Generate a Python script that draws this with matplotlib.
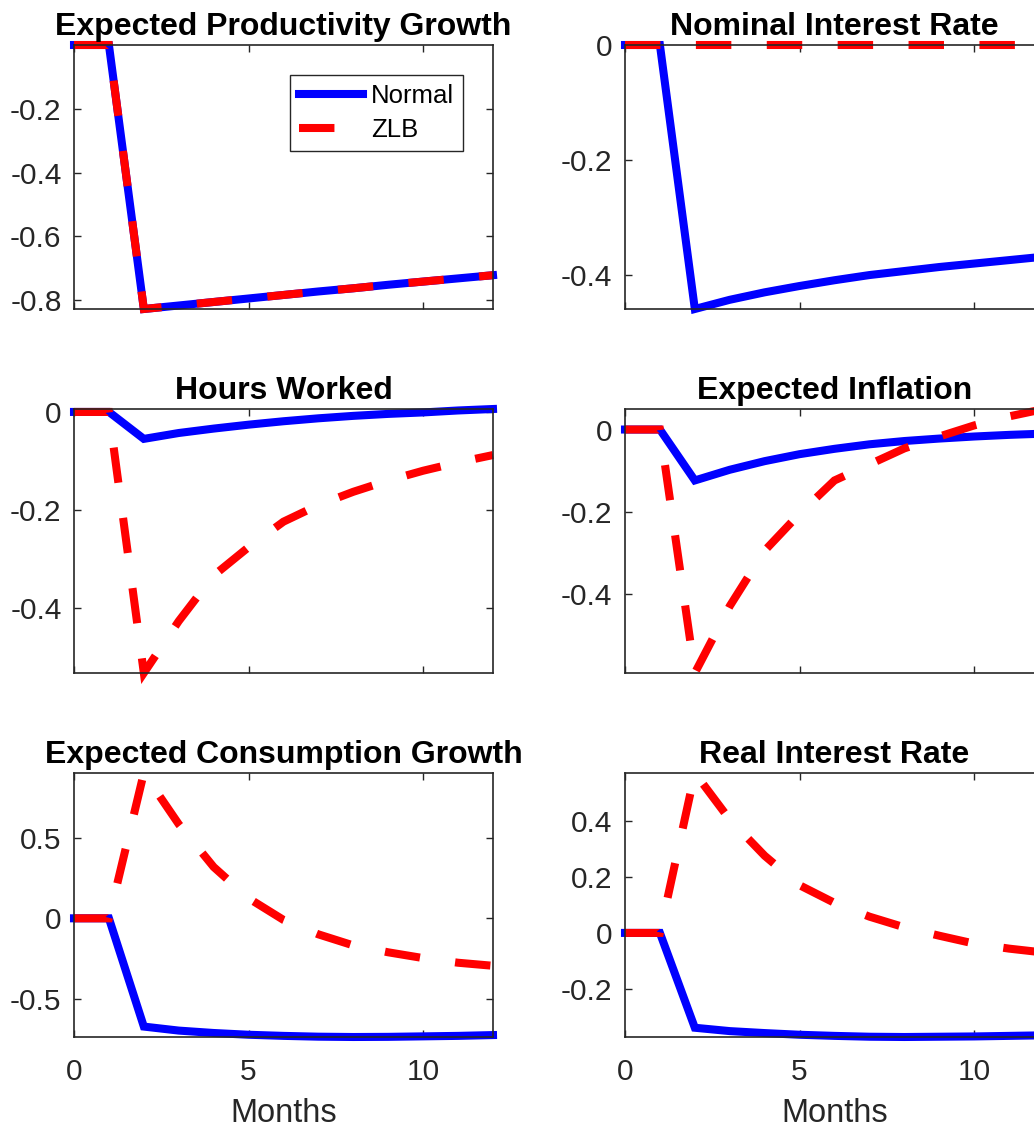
import matplotlib
matplotlib.use("Agg")
import matplotlib.pyplot as plt
from matplotlib.ticker import FuncFormatter

plt.rcParams['font.family'] = ['Liberation Sans', 'DejaVu Sans']
plt.rcParams['axes.unicode_minus'] = False

months = list(range(13))

prod_normal = [0, 0, -0.828, -0.817, -0.806, -0.795, -0.784, -0.773, -0.763, -0.752, -0.742, -0.732, -0.722]
prod_zlb = [0, 0, -0.828, -0.817, -0.806, -0.795, -0.784, -0.773, -0.763, -0.752, -0.742, -0.732, -0.722]

nom_normal = [0, 0, -0.459, -0.443, -0.430, -0.419, -0.409, -0.400, -0.393, -0.386, -0.380, -0.374, -0.368]
nom_zlb = [0, 0, 0, 0, 0, 0, 0, 0, 0, 0, 0, 0, 0]

hours_normal = [0, 0, -0.055, -0.043, -0.034, -0.026, -0.019, -0.013, -0.008, -0.004, -0.001, 0.003, 0.006]
hours_zlb = [0, 0, -0.533, -0.427, -0.334, -0.276, -0.224, -0.19, -0.163, -0.14, -0.12, -0.103, -0.088]

infl_normal = [0, 0, -0.124, -0.098, -0.077, -0.060, -0.047, -0.036, -0.028, -0.022, -0.017, -0.013, -0.010]
infl_zlb = [0, 0, -0.593, -0.43, -0.295, -0.205, -0.124, -0.085, -0.046, -0.017, 0.010, 0.032, 0.050]

cons_normal = [0, 0, -0.675, -0.700, -0.715, -0.726, -0.733, -0.738, -0.740, -0.739, -0.736, -0.733, -0.728]
cons_zlb = [0, 0, 0.906, 0.587, 0.32, 0.125, -0.01, -0.1, -0.169, -0.212, -0.248, -0.277, -0.296]

real_normal = [0, 0, -0.338, -0.350, -0.357, -0.363, -0.367, -0.370, -0.371, -0.370, -0.369, -0.367, -0.365]
real_zlb = [0, 0, 0.57, 0.404, 0.275, 0.17, 0.107, 0.058, 0.02, -0.01, -0.038, -0.056, -0.07]

titles = ["Expected Productivity Growth", "Nominal Interest Rate",
          "Hours Worked", "Expected Inflation",
          "Expected Consumption Growth", "Real Interest Rate"]
normal_series = [prod_normal, nom_normal, hours_normal, infl_normal, cons_normal, real_normal]
zlb_series = [prod_zlb, nom_zlb, hours_zlb, infl_zlb, cons_zlb, real_zlb]
yticks_list = [[-0.8, -0.6, -0.4, -0.2], [-0.4, -0.2, 0],
               [-0.4, -0.2, 0], [-0.4, -0.2, 0],
               [-0.5, 0, 0.5], [-0.2, 0, 0.2, 0.4]]
xticks = [0, 5, 10]
legend_labels = ["Normal", "ZLB"]

W, H = 1034, 1128
fig = plt.figure(figsize=(W / 100, H / 100), dpi=100)

lefts = [74, 625]
tops = [45, 409, 773]
aw, ah = 419, 264
axcol = '#262626'
lw = 5.8

fmt = FuncFormatter(lambda v, p: ('%g' % round(v, 6)) if abs(v) > 1e-9 else '0')

for i in range(6):
    r, c = divmod(i, 2)
    ax = fig.add_axes([lefts[c] / W, 1 - (tops[r] + ah) / H, aw / W, ah / H])
    n = normal_series[i]
    z = zlb_series[i]
    l1, = ax.plot(months, n, color=(0, 0, 1), lw=lw, clip_on=False, label=legend_labels[0],
                  solid_joinstyle='miter')
    l2, = ax.plot(months, z, color=(1, 0, 0), lw=lw, clip_on=False, label=legend_labels[1],
                  linestyle=(0, (4.4, 4.4)), dash_capstyle='butt', dash_joinstyle='miter')
    lo = min(min(n), min(z))
    hi = max(max(n), max(z))
    ax.set_ylim(lo, hi)
    ax.set_xlim(0, 12)
    ax.set_xticks(xticks)
    ax.set_yticks(yticks_list[i])
    ax.yaxis.set_major_formatter(fmt)
    ax.tick_params(direction='in', length=5, width=1, colors=axcol, labelsize=21.5,
                   top=True, right=True, pad=9)
    ax.tick_params(axis='x', pad=15)
    for s in ax.spines.values():
        s.set_color(axcol)
        s.set_linewidth(1.2)
    if r < 2:
        ax.tick_params(axis='x', labelbottom=False)
    else:
        ax.set_xlabel("Months", fontsize=23.5, color=axcol, labelpad=9)
    ax.set_title(titles[i], fontsize=23, fontweight='bold', color='black', pad=7)
    if i == 0:
        leg = ax.legend(handles=[l1, l2], loc='upper left', bbox_to_anchor=(0.5155, 0.886),
                        fontsize=18.5, frameon=True, fancybox=False, framealpha=1,
                        edgecolor=axcol, handlelength=2.5, handletextpad=0.3,
                        borderaxespad=0, borderpad=0.35, labelspacing=0.4)
        leg.get_frame().set_linewidth(1.0)

fig.savefig("out.png", dpi=100)
